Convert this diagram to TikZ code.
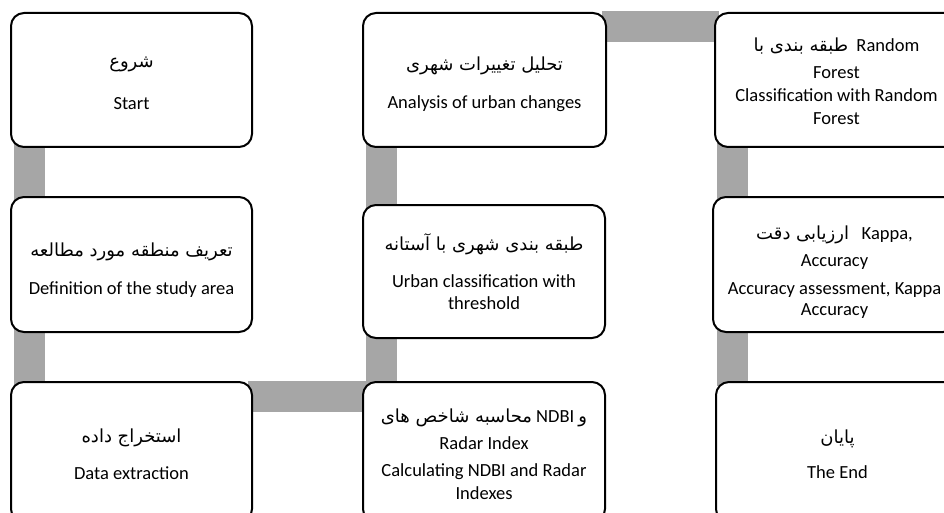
\documentclass[tikz,border=0pt]{standalone}
\usepackage{fontspec}
\setmainfont{Carlito}
\newfontfamily\fafont[Script=Arabic]{DejaVu Sans}
\TeXXeTstate=1
\newcommand{\fa}{\fafont\fontsize{18}{22.5}\selectfont}
\usetikzlibrary{backgrounds}
\definecolor{connc}{RGB}{166,166,166}
\begin{document}
\begin{tikzpicture}[x=1pt,y=-1pt,
  box/.style={draw=black, line width=2pt, rounded corners=13pt, fill=white, inner sep=0pt},
  txt/.style={align=center, inner sep=0pt, font=\fontsize{18.5}{22.5}\selectfont},
  conn/.style={draw=connc, line width=31pt}]
\useasboundingbox (0,0) rectangle (944,513);
% boxes
\node[box, minimum width=241pt, minimum height=134pt] (a) at (131.5,80) {};
\node[box, minimum width=241pt, minimum height=135pt] (b) at (131.5,264.5) {};
\node[box, minimum width=241pt, minimum height=140pt] (c) at (131.5,452) {};
\node[box, minimum width=243pt, minimum height=134pt] (d) at (484.5,80) {};
\node[box, minimum width=242pt, minimum height=133pt] (e) at (484,271.5) {};
\node[box, minimum width=242pt, minimum height=140pt] (f) at (484,452) {};
\node[box, minimum width=243pt, minimum height=134pt] (g) at (836.5,80) {};
\node[box, minimum width=243pt, minimum height=135pt] (h) at (834.5,264.5) {};
\node[box, minimum width=243pt, minimum height=140pt] (i) at (837.5,452) {};
% texts
\node[txt] (ta) at ([yshift=-3.5pt]a.center)
  {{\fa\beginR شروع\endR}\\[19pt]Start};
\node[txt] (tb) at ([yshift=-6pt]b.center)
  {{\fa\beginR تعریف منطقه مورد مطالعه\endR}\\[15.5pt]Definition of the study area};
\node[txt] (tc) at ([yshift=-2pt]c.center)
  {{\fa\beginR استخراج داده\endR}\\[14pt]Data extraction};
\node[txt] (td) at ([yshift=-4pt]d.center)
  {{\fa\beginR تحلیل تغییرات شهری\endR}\\[15.5pt]Analysis of urban changes};
\node[txt] (te) at (e.center)
  {{\fa\beginR طبقه بندی شهری با آستانه\endR}\\[14.5pt]Urban classification with\\threshold};
\node[txt] (tf) at ([yshift=-2pt]f.center)
  {{\fa\beginR محاسبه شاخص های\endR} NDBI {\fa و}\\[4.5pt]Radar Index\\[4.5pt]Calculating NDBI and Radar\\Indexes};
\node[txt] (tg) at ([yshift=-1pt]g.center)
  {{\fa\beginR طبقه بندی با\endR}\ \ Random\\[4.5pt]Forest\\[0.5pt]Classification with Random\\[0.5pt]Forest};
\node[txt] (th) at ([yshift=-7.5pt]h.center)
  {{\fa\beginR ارزیابی دقت\endR}\ \ \ Kappa,\\[4.5pt]Accuracy\\[5.5pt]Accuracy assessment, Kappa\\[-1.5pt]Accuracy};
\node[txt] (ti) at ([yshift=-2pt]i.center)
  {{\fa\beginR پایان\endR}\\[13pt]The End};
% connectors
\begin{scope}[on background layer]
\fill[white] (0,0) rectangle (944,513);
\draw[conn] ([shift={(19.5pt,5pt)}]a.south west) -- ([shift={(19.5pt,-5pt)}]c.north west);
\draw[conn] ([shift={(-5pt,-15.5pt)}]c.north east) -- ([shift={(5pt,-15.5pt)}]f.north west);
\draw[conn] ([shift={(19.5pt,5pt)}]d.south west) -- ([shift={(19.5pt,-5pt)}]f.north west);
\draw[conn] ([shift={(-5pt,-15pt)}]d.north east) -- ([shift={(5pt,-15pt)}]g.north west);
\draw[conn] ([shift={(18pt,5pt)}]g.south west) -- ([shift={(17pt,-5pt)}]i.north west);
\end{scope}
\end{tikzpicture}
\end{document}
